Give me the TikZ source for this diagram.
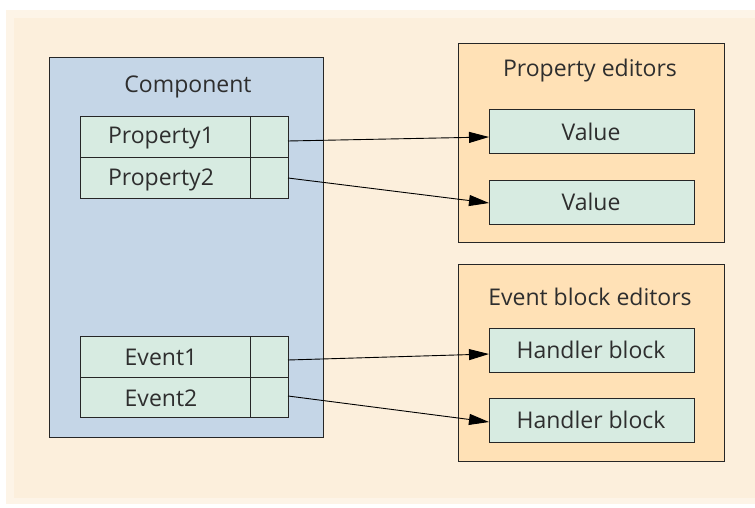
\documentclass[tikz,border=0pt]{standalone}
\usepackage{fontspec}
\setmainfont{Open Sans}
\usetikzlibrary{arrows.meta}
\definecolor{bgc}{HTML}{FCEFDC}
\definecolor{compc}{HTML}{C5D6E7}
\definecolor{edc}{HTML}{FFE1B6}
\definecolor{cellc}{HTML}{D7EBE1}
\definecolor{txt}{HTML}{2E2E2E}
\begin{document}
\begin{tikzpicture}[x=1pt,y=-1pt,
  box/.style={draw=black!85,line width=1pt},
  cell/.style={box,fill=cellc,inner sep=0pt},
  lbl/.style={text=txt,font=\fontsize{23}{26}\selectfont,inner sep=0pt},
  conn/.style={line width=0.9pt,-{Triangle[length=20pt,width=11pt]}}]
\useasboundingbox (0,0) rectangle (755,508);
\fill[white] (0,0) rectangle (755,508);
\fill[bgc!70] (6,10) rectangle (755,504);
\fill[bgc] (14,18) rectangle (755,498);
% Component
\draw[box,fill=compc] (49,58) rectangle (323,437);
\node[lbl] (comp) at (188,87) {Component};
% property rows
\draw[cell] (80,117) rectangle (288,158);
\draw[cell] (80,158) rectangle (288,198);
\draw[box] (250,117) -- (250,198);
\node[lbl] (p1) at (161,138) {Property1};
\node[lbl] (p2) at (161,180) {Property2};
\coordinate (p1e) at (288,141);
\coordinate (p2e) at (288,178);
% event rows
\draw[cell] (80,336) rectangle (288,377);
\draw[cell] (80,377) rectangle (288,417);
\draw[box] (250,336) -- (250,417);
\node[lbl] (e1) at (161,357) {Event1};
\node[lbl] (e2) at (161,398) {Event2};
\coordinate (e1e) at (288,360);
\coordinate (e2e) at (288,396);
% Property editors
\draw[box,fill=edc] (458,44) rectangle (724,242);
\node[lbl] (pe) at (590,71) {Property editors};
\draw[cell] (489,110) rectangle (694,154);
\node[lbl] (v1) at (591,132) {Value};
\draw[cell] (489,180) rectangle (694,224);
\node[lbl] (v2) at (591,202) {Value};
\coordinate (v1w) at (489,137);
\coordinate (v2w) at (489,203);
% Event block editors
\draw[box,fill=edc] (458,264) rectangle (724,461);
\node[lbl] (ee) at (590,297) {Event block editors};
\draw[cell] (489,328) rectangle (694,372);
\node[lbl] (h1) at (591,350) {Handler block};
\draw[cell] (489,398) rectangle (694,442);
\node[lbl] (h2) at (591,420) {Handler block};
\coordinate (h1w) at (489,354);
\coordinate (h2w) at (489,422);
% connectors
\draw[conn] (p1e) -- (v1w);
\draw[conn] (p2e) -- (v2w);
\draw[conn] (e1e) -- (h1w);
\draw[conn] (e2e) -- (h2w);
\end{tikzpicture}
\end{document}
